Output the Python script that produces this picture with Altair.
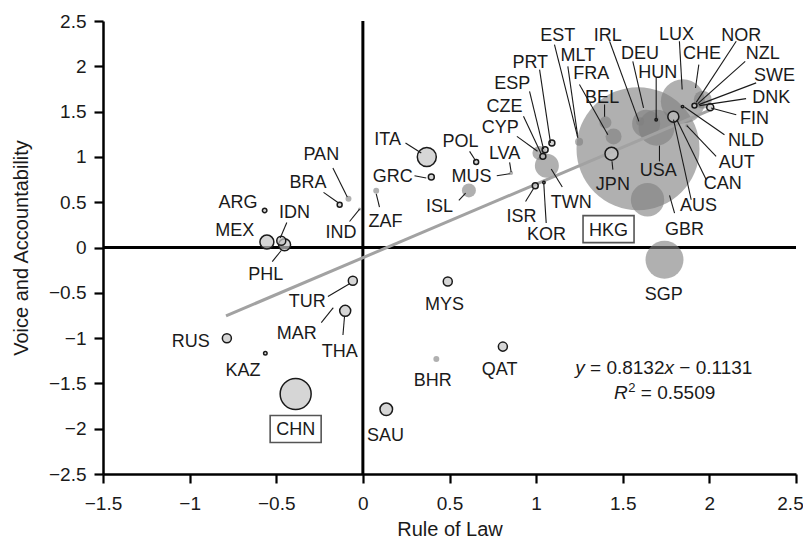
import altair as alt
import pandas as pd

FONT = "Liberation Sans, Arial, Helvetica, sans-serif"
INK = "#1a1a1a"

# ---- data ----
countries = ["ARG", "BRA", "PAN", "IND", "ZAF", "MEX", "IDN", "PHL", "TUR", "THA",
             "MAR", "RUS", "KAZ", "CHN", "SAU", "BHR", "QAT", "MYS", "SGP", "ITA",
             "GRC", "POL", "MUS", "LVA", "ISL", "ISR", "KOR", "TWN", "CYP", "CZE",
             "ESP", "PRT", "EST", "MLT", "FRA", "BEL", "JPN", "HKG", "IRL", "DEU",
             "HUN", "USA", "LUX", "CHE", "AUS", "CAN", "AUT", "NLD", "NOR", "NZL",
             "SWE", "DNK", "FIN", "GBR"]

rule_of_law = [-0.567, -0.134, -0.083, -0.019, 0.077, -0.554, -0.471, -0.452, -0.058, -0.102,
               -0.173, -0.785, -0.563, -0.388, 0.135, 0.424, 0.808, 0.490, 1.741, 0.369,
               0.395, 0.654, 0.847, 0.856, 0.612, 0.995, 1.045, 1.062, 1.019, 1.039,
               1.052, 1.091, 1.248, 1.239, 1.447, 1.400, 1.435, 1.588, 1.600, 1.635,
               1.693, 1.695, 1.847, 1.962, 1.792, 1.815, 1.870, 1.845, 1.914, 1.933,
               1.939, 1.943, 2.005, 1.643]

voice = [0.409, 0.472, 0.538, 0.424, 0.626, 0.060, 0.074, 0.030, -0.368, -0.699,
         -0.670, -1.001, -1.167, -1.617, -1.786, -1.230, -1.094, -0.376, -0.136, 0.999,
         0.778, 0.944, 0.814, 0.822, 0.630, 0.682, 0.718, 0.903, 1.043, 1.006,
         1.080, 1.154, 1.168, 1.234, 1.226, 1.381, 1.035, 1.091, 1.392, 1.367,
         1.411, 1.323, 1.613, 1.632, 1.444, 1.411, 1.345, 1.555, 1.566, 1.588,
         1.577, 1.566, 1.548, 0.527]

bubble = [0.13, 0.16, 0.23, 0.06, 0.23, 1.27, 0.53, 0.94, 0.53, 0.79,
          0.03, 0.53, 0.08, 6.25, 1.03, 0.23, 0.53, 0.53, 9.39, 2.35,
          0.23, 0.16, 0.03, 0.10, 1.27, 0.23, 0.04, 3.75, 1.27, 0.23,
          0.23, 0.23, 0.42, 0.03, 1.66, 0.94, 1.10, 98.4, 0.42, 5.10,
          0.04, 8.43, 12.59, 2.11, 0.79, 0.06, 0.06, 0.04, 0.16, 0.03,
          0.03, 0.03, 0.32, 7.25]

marker = ["ring", "ring", "disc", "disc", "disc", "ring", "ring", "ring", "ring", "ring",
          "disc", "ring", "ring", "ring", "ring", "disc", "ring", "ring", "disc", "ring",
          "ring", "ring", "disc", "disc", "disc", "ring", "ring", "disc", "disc", "ring",
          "ring", "ring", "disc", "disc", "disc", "disc", "ring", "disc", "disc", "disc",
          "ring", "disc", "disc", "disc", "ring", "disc", "disc", "ring", "ring", "disc",
          "disc", "disc", "ring", "disc"]

label_x = [-0.721, -0.317, -0.240, -0.126, 0.131, -0.740, -0.394, -0.561, -0.321, -0.134,
           -0.381, -0.994, -0.692, -0.388, 0.131, 0.404, 0.789, 0.471, 1.737, 0.143,
           0.173, 0.564, 0.627, 0.818, 0.443, 0.916, 1.060, 1.203, 0.793, 0.818,
           0.862, 0.966, 1.125, 1.241, 1.318, 1.381, 1.443, 1.418, 1.414, 1.600,
           1.702, 1.705, 1.810, 1.957, 1.937, 2.077, 2.158, 2.212, 2.184, 2.308,
           2.376, 2.357, 2.260, 1.856]

label_y = [0.508, 0.729, 1.035, 0.173, 0.295, 0.203, 0.398, -0.291, -0.586, -1.138,
           -0.939, -1.025, -1.344, -2.003, -2.062, -1.454, -1.340, -0.614, -0.512, 1.201,
           0.792, 1.182, 0.798, 1.050, 0.461, 0.347, 0.151, 0.508, 1.337, 1.566,
           1.817, 2.055, 2.350, 2.129, 1.927, 1.669, 0.704, 0.203, 2.350, 2.148,
           1.945, 0.859, 2.356, 2.148, 0.472, 0.712, 0.950, 1.190, 2.350, 2.148,
           1.908, 1.669, 1.430, 0.214]

boxed = ["CHN", "HKG"]

lead_names = ["PAN", "BRA", "IND", "ZAF", "ITA", "GRC", "IDN", "PHL", "TUR", "MAR",
              "THA", "POL", "MUS", "LVA", "ISL", "ISR", "KOR", "TWN", "CYP", "CZE",
              "ESP", "PRT", "EST", "MLT", "FRA", "BEL", "JPN", "IRL", "DEU", "HUN",
              "LUX", "CHE", "USA", "NOR", "NZL", "SWE", "DNK", "FIN", "NLD", "AUT",
              "CAN", "AUS", "GBR"]
lead_x1 = [-0.173, -0.227, -0.077, 0.096, 0.246, 0.298, -0.439, -0.523, -0.202, -0.240,
           -0.115, 0.616, 0.773, 0.847, 0.554, 0.939, 1.058, 1.151, 0.889, 0.927,
           0.962, 1.020, 1.106, 1.183, 1.250, 1.395, 1.438, 1.424, 1.558, 1.693,
           1.827, 1.939, 1.712, 2.155, 2.207, 2.270, 2.212, 2.155, 2.087, 2.039,
           1.982, 1.895, 1.799]
lead_y1 = [0.877, 0.608, 0.287, 0.446, 1.154, 0.792, 0.276, -0.155, -0.541, -0.829,
           -0.965, 1.061, 0.792, 0.939, 0.519, 0.508, 0.270, 0.667, 1.227, 1.448,
           1.724, 1.964, 2.240, 2.000, 1.798, 1.577, 0.952, 2.276, 2.055, 1.872,
           2.276, 2.019, 0.950, 2.276, 2.055, 1.817, 1.643, 1.466, 1.245, 1.006,
           0.748, 0.527, 0.380]
lead_x2 = [-0.090, -0.144, -0.019, 0.077, 0.337, 0.366, -0.477, -0.471, -0.077, -0.173,
           -0.106, 0.650, 0.847, 0.856, 0.593, 0.987, 1.044, 1.087, 1.008, 1.029,
           1.043, 1.083, 1.241, 1.239, 1.414, 1.395, 1.443, 1.593, 1.620, 1.693,
           1.843, 1.920, 1.712, 1.924, 1.933, 1.939, 1.943, 2.010, 1.856, 1.870,
           1.812, 1.793, 1.770]
lead_y2 = [0.557, 0.497, 0.424, 0.593, 1.043, 0.767, 0.104, -0.033, -0.401, -0.670,
           -0.762, 0.961, 0.814, 0.831, 0.599, 0.656, 0.712, 0.866, 1.063, 1.035,
           1.087, 1.154, 1.209, 1.245, 1.245, 1.444, 0.859, 1.392, 1.540, 1.411,
           1.743, 1.761, 1.124, 1.602, 1.588, 1.577, 1.566, 1.540, 1.551, 1.345,
           1.411, 1.411, 0.575]

trend_x = [-0.79, 2.0]
trend_y = [-0.755, 1.513]

eq_x = 1.741
eq_y = [-1.396, -1.672]

x_ticks = [-1.5, -1, -0.5, 0, 0.5, 1, 1.5, 2, 2.5]
y_ticks = [-2.5, -2, -1.5, -1, -0.5, 0, 0.5, 1, 1.5, 2, 2.5]

# ---- tables ----
pts = pd.DataFrame({"country": countries, "rule_of_law": rule_of_law, "voice": voice,
                    "bubble": bubble, "marker": marker,
                    "label_x": label_x, "label_y": label_y})
leads = pd.DataFrame({"country": lead_names, "x1": lead_x1, "y1": lead_y1,
                      "x2": lead_x2, "y2": lead_y2})
trend = pd.DataFrame({"x": trend_x, "y": trend_y})
zero = pd.DataFrame({"zero": [0]})

W, H = 693, 453

xscale = alt.Scale(domain=[-1.5, 2.5], nice=False, zero=False)
yscale = alt.Scale(domain=[-2.5, 2.5], nice=False, zero=False)

common_axis = dict(grid=False, domainColor="black", domainWidth=2.5,
                   tickColor="black", tickWidth=2.2, tickSize=9,
                   labelFont=FONT, labelFontSize=19, labelColor=INK,
                   labelOverlap=False, labelFlush=False, format="~g",
                   titleFont=FONT, titleFontSize=20, titleFontWeight="normal",
                   titleColor=INK, titleBaseline="alphabetic")
xaxis = alt.Axis(title="Rule of Law", values=x_ticks, labelPadding=11,
                 labelOffset={"condition": {"test": "datum.value == 2.5", "value": -6},
                              "value": 0},
                 titleX=W / 2, titleY=61, **common_axis)
yaxis = alt.Axis(title="Voice and Accountability", values=y_ticks, labelPadding=8,
                 titleAngle=270, titleX=-76, titleY=H / 2, **common_axis)


def X(field):
    return alt.X(field, type="quantitative", scale=xscale, axis=xaxis)


def Y(field):
    return alt.Y(field, type="quantitative", scale=yscale, axis=yaxis)


size_enc = alt.Size("bubble:Q", scale=alt.Scale(domain=[0, 100], range=[0, 4 * 62 * 62]),
                    legend=None)

vline = alt.Chart(zero).mark_rule(color="black", strokeWidth=3).encode(x=X("zero"))
hline = alt.Chart(zero).mark_rule(color="black", strokeWidth=3).encode(y=Y("zero"))

discs = alt.Chart(pts).transform_filter(alt.datum.marker == "disc").mark_circle(
    color="#808080", opacity=0.62
).encode(x=X("rule_of_law"), y=Y("voice"), size=size_enc,
         order=alt.Order("bubble:Q", sort="descending"))

trend_line = alt.Chart(trend).mark_line(color="#a2a2a2", strokeWidth=3).encode(
    x=X("x"), y=Y("y"))

rings = alt.Chart(pts).transform_filter(alt.datum.marker == "ring").mark_circle(
    fill="#c4c4c4", fillOpacity=0.7, stroke=INK, strokeWidth=1.5, strokeOpacity=1, opacity=1
).encode(x=X("rule_of_law"), y=Y("voice"), size=size_enc,
         order=alt.Order("bubble:Q", sort="descending"))

leaders = alt.Chart(leads).mark_rule(color=INK, strokeWidth=1.1).encode(
    x=X("x1"), y=Y("y1"), x2="x2:Q", y2="y2:Q")

labels = alt.Chart(pts).mark_text(font=FONT, fontSize=18, color=INK, align="center",
                                  baseline="alphabetic", dy=6.4).encode(
    x=X("label_x"), y=Y("label_y"), text="country:N")

boxes = alt.Chart(pts).transform_filter(
    alt.FieldOneOfPredicate(field="country", oneOf=boxed)
).mark_point(shape="M-1,-0.53H1V0.53H-1Z", size=2601, filled=False, color="#555555",
             strokeWidth=1.6, opacity=1).encode(x=X("label_x"), y=Y("label_y"))


def eq_piece(text, row, dx, italic=False, size=19, dy=0):
    df = pd.DataFrame({"x": [eq_x], "y": [eq_y[row]]})
    return alt.Chart(df).mark_text(text=text, font=FONT, fontSize=size, color=INK,
                                   fontStyle="italic" if italic else "normal",
                                   align="left", baseline="alphabetic",
                                   dx=dx, dy=dy).encode(x=X("x"), y=Y("y"))


equation = [
    eq_piece("y", 0, -89.3, italic=True),
    eq_piece("= 0.8132", 0, -74.5),
    eq_piece("x", 0, 0.0, italic=True),
    eq_piece("\u2212 0.1131", 0, 14.8),
    eq_piece("R", 1, -50.4, italic=True),
    eq_piece("2", 1, -36.2, size=13, dy=-7),
    eq_piece("= 0.5509", 1, -23.7),
]

chart = alt.layer(vline, hline, discs, trend_line, rings, leaders, labels, boxes,
                  *equation).properties(
    width=W, height=H,
    autosize=alt.AutoSizeParams(type="none"),
    padding={"left": 95, "top": 13, "right": 7, "bottom": 66},
    background="white",
).configure_view(stroke=None)

chart.save("out.html", embed_options={"renderer": "svg", "actions": False})
